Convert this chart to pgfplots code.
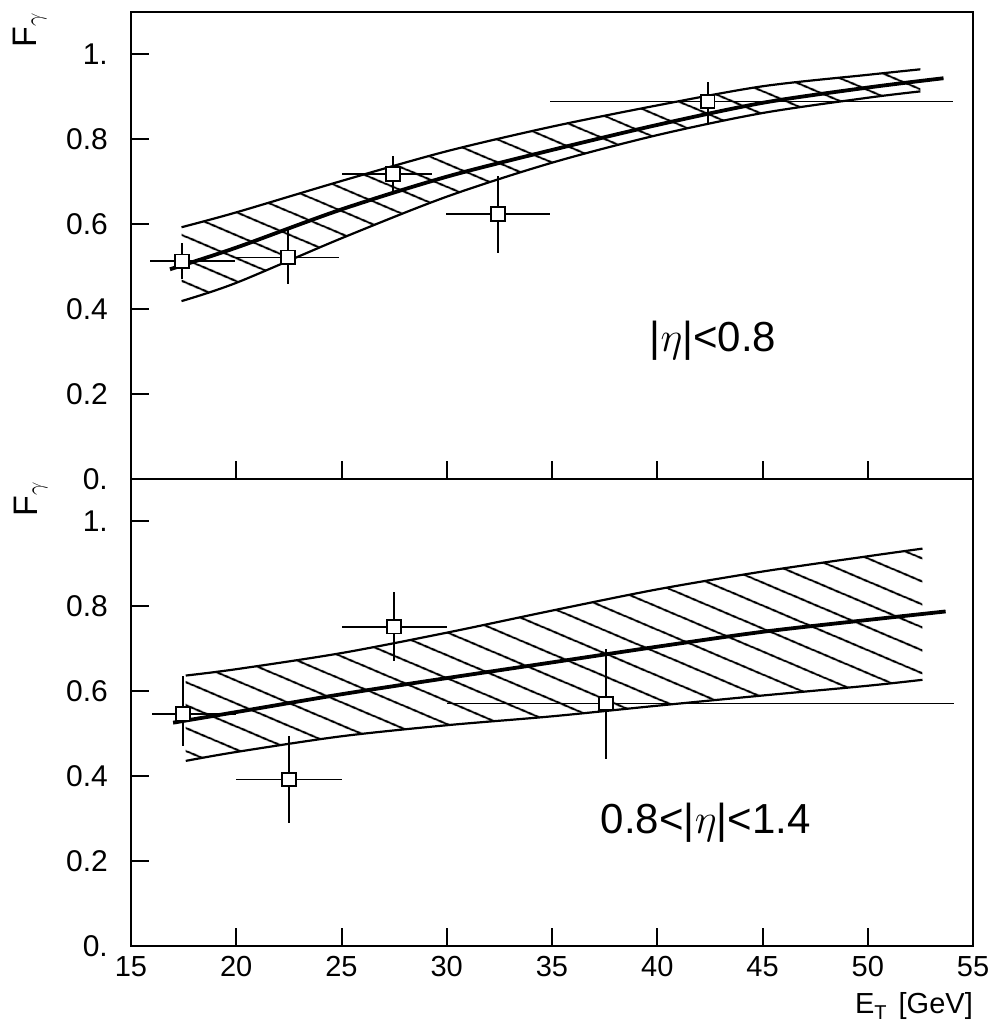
\RequirePackage{fix-cm}
\documentclass[border=0pt]{standalone}
\usepackage{fontspec}
\setmainfont{Liberation Sans}
\usepackage{pgfplots}
\usepackage{pgfplotstable}
\pgfplotsset{compat=1.18}
\usepgfplotslibrary{fillbetween}
\usetikzlibrary{patterns.meta}

% data points: x y xminus xplus yminus yplus
\pgfplotstableread{
x y xm xp ym yp
17.42 0.513 1.52 2.52 0.043 0.042
22.46 0.522 2.56 2.44 0.063 0.066
27.45 0.718 2.45 1.85 0.040 0.042
32.43 0.624 2.48 2.47 0.092 0.089
42.40 0.889 7.50 11.65 0.054 0.047
}\toppts
\pgfplotstableread{
x y xm xp ym yp
17.47 0.547 1.47 2.53 0.075 0.090
22.50 0.392 2.50 2.50 0.102 0.103
27.49 0.752 2.49 2.51 0.080 0.081
37.56 0.571 7.56 16.54 0.130 0.129
}\botpts

\pgfplotstableread{
x y
17.4 0.593
20 0.628
25 0.702
30 0.772
35 0.830
40 0.880
45 0.925
50 0.952
52.5 0.965
}\topup
\pgfplotstableread{
x y
17.4 0.419
20 0.462
25 0.567
30 0.665
35 0.745
40 0.810
45 0.862
50 0.898
52.5 0.913
}\toplo
\pgfplotstableread{
x y
16.85 0.494
20 0.545
25 0.635
30 0.712
35 0.775
40 0.834
45 0.886
50 0.922
53.6 0.944
}\topmid

\pgfplotstableread{
x y
17.6 0.637
20 0.652
25 0.690
30 0.738
35 0.790
40 0.840
45 0.882
50 0.918
52.6 0.936
}\botup
\pgfplotstableread{
x y
17.6 0.436
20 0.457
25 0.494
30 0.520
35 0.541
40 0.566
45 0.590
50 0.613
52.6 0.627
}\botlo
\pgfplotstableread{
x y
17.0 0.526
20 0.551
25 0.593
30 0.631
35 0.668
40 0.705
45 0.740
50 0.768
53.7 0.788
}\botmid

\pgfplotsset{
  panel/.style={
    scale only axis, width=842pt, height=467pt,
    xmin=15, xmax=55, ymin=0, ymax=1.1,
    axis line style={line width=2.5pt},
    tick style={line width=2pt, black},
    major tick length=18pt,
    tick align=inside,
    xtick pos=bottom, ytick pos=left,
    ytick={0,0.2,0.4,0.6,0.8,1},
    yticklabels={0.,0.2,0.4,0.6,0.8,1.},
    yticklabel style={font=\fontsize{30}{32}\selectfont, inner sep=0pt, xshift=-23pt},
    xticklabel style={font=\fontsize{29}{32}\selectfont, inner sep=0pt, yshift=-10pt},
    clip=false,
  },
  band/.style={line width=2.2pt, black, smooth, tension=0.5},
  mid/.style={line width=3.8pt, black, smooth, tension=0.5},
  pts/.style={only marks, mark=square*, mark size=6.8pt,
    mark options={fill=white, draw=black, line width=1.8pt, solid},
    error bars/.cd, x dir=both, y dir=both, x explicit, y explicit,
    error mark=none, error bar style={line width=1.6pt, black}},
}

\begin{document}
\begin{tikzpicture}

% ---------------- top panel ----------------
\begin{axis}[panel, at={(0pt,467pt)}, anchor=south west,
  xtick={20,25,30,35,40,45,50}, xticklabels={}]
  \addplot[band, name path=tu] table {\topup};
  \addplot[band, name path=tl] table {\toplo};
  \addplot[draw=none, pattern={Lines[angle=-23,distance=20.5pt,line width=2pt]}]
     fill between[of=tu and tl];
  \addplot[mid] table {\topmid};
  \addplot[pts] table[x=x, y=y, x error minus=xm, x error plus=xp,
     y error minus=ym, y error plus=yp] {\toppts};
  \node[font=\fontsize{42}{46}\selectfont] at (axis cs:42.65,0.325) {|$\eta$|<0.8};
  \node[xshift=-101pt, yshift=-18pt, rotate=90, font=\fontsize{34}{36}\selectfont] at (rel axis cs:0,1) {F$_\gamma$};
\end{axis}

% ---------------- bottom panel ----------------
\begin{axis}[panel, at={(0pt,0pt)}, anchor=south west,
  xtick={15,20,25,30,35,40,45,50,55},
  xticklabels={15,20,25,30,35,40,45,50,55}]
  \addplot[band, name path=bu] table {\botup};
  \addplot[band, name path=bl] table {\botlo};
  \addplot[draw=none, pattern={Lines[angle=-23,distance=20.5pt,line width=2pt]}]
     fill between[of=bu and bl];
  \addplot[mid] table {\botmid};
  \addplot[pts] table[x=x, y=y, x error minus=xm, x error plus=xp,
     y error minus=ym, y error plus=yp] {\botpts};
  \node[font=\fontsize{42}{46}\selectfont] at (axis cs:42.3,0.29) {0.8<|$\eta$|<1.4};
  \node[xshift=-100pt, yshift=-20pt, rotate=90, font=\fontsize{34}{36}\selectfont] at (rel axis cs:0,1) {F$_\gamma$};
  \node[anchor=north east, inner sep=0pt, font=\fontsize{29}{32}\selectfont] at (rel axis cs:1,0) [yshift=-46pt] {E{\fontsize{20}{22}\selectfont\raisebox{-6pt}{T}}\hspace{12pt}[GeV]};
\end{axis}
\pgfresetboundingbox
\useasboundingbox (-131pt,-82pt) rectangle (868pt,946pt);
\end{tikzpicture}
\end{document}
